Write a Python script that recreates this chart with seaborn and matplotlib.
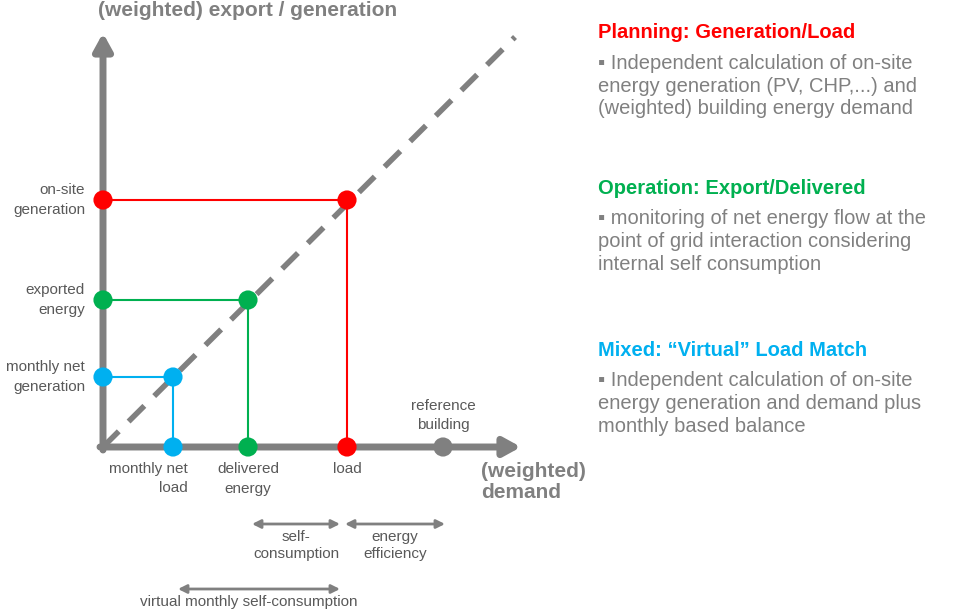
import matplotlib
matplotlib.use("Agg")
import matplotlib.pyplot as plt
import pandas as pd
import seaborn as sns

sns.set_style("white")
plt.rcParams["font.family"] = ["Liberation Sans", "DejaVu Sans"]

RED, GREEN, BLUE, GREY = "#FF0000", "#00B050", "#00B0F0", "#808080"

# diagram values (pixel-like units from origin)
demand_names = ["monthly net\nload", "delivered\nenergy", "load", "reference\nbuilding"]
demand_vals = [70, 145, 244, 340]
gen_names = ["monthly net\ngeneration", "exported\nenergy", "on-site\ngeneration"]
gen_vals = [70, 147, 247]
colors = [BLUE, GREEN, RED]

fig = plt.figure(figsize=(9.54, 6.14), dpi=100)
ax = fig.add_axes([0, 0, 1, 1])
ax.set_xlim(-103, 851)
ax.set_ylim(-167, 447)
ax.axis("off")

# axes arrows
arw = dict(arrowstyle="-|>,head_length=1.0,head_width=0.55", color=GREY, lw=5, shrinkA=0, shrinkB=0)
ax.annotate("", xy=(0, 414), xytext=(0, -3), arrowprops=arw)
ax.annotate("", xy=(418, 0), xytext=(-3, 0), arrowprops=arw)
ax.plot([0, 412], [0, 410], ls=(0, (4, 2.5)), color=GREY, lw=4, zorder=1)

for gx, gy, c in zip(demand_vals[:3], gen_vals, colors):
    ax.plot([0, gx, gx], [gy, gy, 0], color=c, lw=1.5, zorder=2)

pts = pd.DataFrame({
    "x": [0, 0, 0] + demand_vals[:3] + demand_vals[:3] + [demand_vals[3]],
    "y": gen_vals + [0, 0, 0] + gen_vals + [0],
    "c": colors * 3 + [GREY],
})
sns.scatterplot(data=pts, x="x", y="y", hue="c", palette={c: c for c in pts["c"].unique()},
                s=190, edgecolor="none", legend=False, ax=ax, zorder=3)

lab = dict(fontsize=11, color="#595959")
for n, v in zip(gen_names, gen_vals):
    ax.text(-18, v, n, ha="right", va="center", linespacing=1.5, **lab)
for n, v in zip(demand_names, demand_vals):
    if n.startswith("reference"):
        ax.text(v, 15, n, ha="center", va="bottom", linespacing=1.5, **lab)
    elif n.startswith("monthly"):
        ax.text(v + 15, -15, n, ha="right", va="top", linespacing=1.5, multialignment="right", **lab)
    else:
        ax.text(v, -15, n, ha="center", va="top", linespacing=1.5, **lab)

ax.text(-5, 437, "(weighted) export / generation", ha="left", va="center",
        fontsize=15, fontweight="bold", color=GREY)
ax.text(378, -35, "(weighted)\ndemand", ha="left", va="center",
        fontsize=15, fontweight="bold", color=GREY, linespacing=1.1)

darw = dict(arrowstyle="<|-|>,head_length=0.5,head_width=0.25", color=GREY, lw=2, shrinkA=0, shrinkB=0)
for x0, x1, y, t, cx in [(149, 237, -77, "self-\nconsumption", 193),
                         (242, 342, -77, "energy\nefficiency", 292),
                         (75, 237, -142, "virtual monthly self-consumption", 146)]:
    ax.annotate("", xy=(x1, y), xytext=(x0, y), arrowprops=darw)
    ax.text(cx, y - 6, t, ha="center", va="top", linespacing=1.3, **lab)

heads = [("Planning: Generation/Load", RED,
          "\u25aa Independent calculation of on-site\nenergy generation (PV, CHP,...) and\n(weighted) building energy demand"),
         ("Operation: Export/Delivered", GREEN,
          "\u25aa monitoring of net energy flow at the\npoint of grid interaction considering\ninternal self consumption"),
         ("Mixed: \u201cVirtual\u201d Load Match", BLUE,
          "\u25aa Independent calculation of on-site\nenergy generation and demand plus\nmonthly based balance")]
for (h, c, body), py in zip(heads, [33, 188, 350]):
    ax.text(495, 447 - py, h, ha="left", va="center", fontsize=14.5, fontweight="bold", color=c)
    ax.text(495, 447 - py - 21, body, ha="left", va="top", fontsize=14.5, color=GREY, linespacing=1.25)

fig.savefig("out.png", dpi=100)
